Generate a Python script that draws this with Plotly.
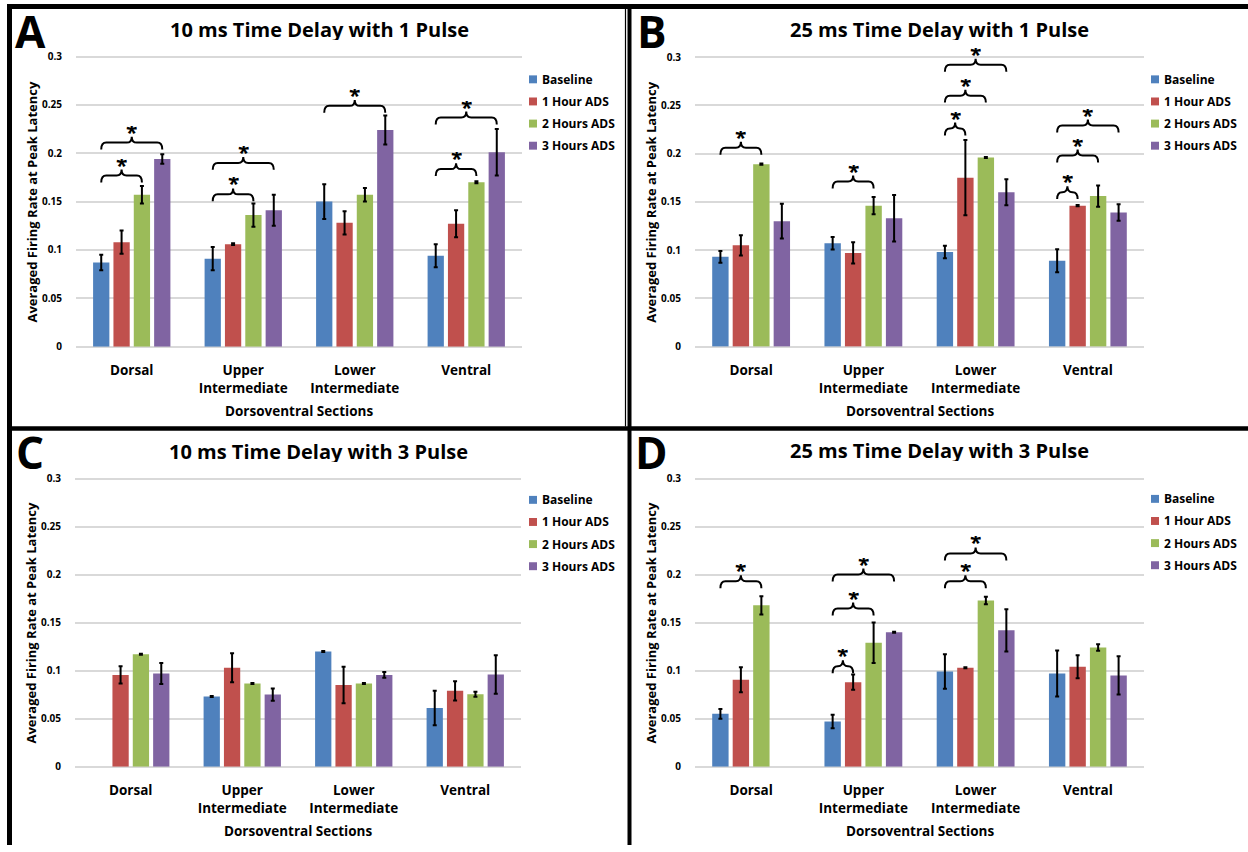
import plotly.graph_objects as go

W, H = 1248, 852
FONT = "Open Sans"

# ---------------- data ----------------
categories = ["Dorsal", "Upper<br>Intermediate", "Lower<br>Intermediate", "Ventral"]
series_names = ["Baseline", "1 Hour ADS", "2 Hours ADS", "3 Hours ADS"]
series_colors = ["#4F81BD", "#C0504D", "#9BBB59", "#8064A2"]
y_tickvals = [0, 0.05, 0.1, 0.15, 0.2, 0.25, 0.3]
y_ticktext = ["0", "0.05", "0.1", "0.15", "0.2", "0.25", "0.3"]

# Panel A: 10 ms, 1 pulse
a_baseline = [0.087, 0.091, 0.150, 0.094]
a_1h = [0.108, 0.106, 0.128, 0.127]
a_2h = [0.157, 0.136, 0.157, 0.170]
a_3h = [0.194, 0.141, 0.224, 0.201]
a_baseline_err = [0.008, 0.012, 0.018, 0.012]
a_1h_err = [0.012, 0.001, 0.012, 0.014]
a_2h_err = [0.009, 0.012, 0.007, 0.001]
a_3h_err = [0.005, 0.016, 0.015, 0.024]
# (category, from series, to series, bracket level)
a_brackets = [(0, 0, 2, 0.177), (0, 0, 3, 0.211), (1, 0, 2, 0.1575), (1, 0, 3, 0.190),
              (2, 0, 3, 0.249), (3, 0, 2, 0.1836), (3, 0, 3, 0.237)]

# Panel B: 25 ms, 1 pulse
b_baseline = [0.093, 0.107, 0.098, 0.089]
b_1h = [0.105, 0.097, 0.175, 0.146]
b_2h = [0.189, 0.146, 0.196, 0.156]
b_3h = [0.130, 0.133, 0.160, 0.139]
b_baseline_err = [0.006, 0.0065, 0.0065, 0.012]
b_1h_err = [0.0105, 0.011, 0.039, 0.0006]
b_2h_err = [0.0007, 0.009, 0.0005, 0.011]
b_3h_err = [0.018, 0.024, 0.0135, 0.0085]
b_brackets = [(0, 0, 2, 0.206), (1, 0, 2, 0.171), (2, 0, 1, 0.226), (2, 0, 2, 0.260),
              (2, 0, 3, 0.292), (3, 0, 1, 0.160), (3, 0, 2, 0.198), (3, 0, 3, 0.229)]

# Panel C: 10 ms, 3 pulse
c_baseline = [None, 0.073, 0.120, 0.061]
c_1h = [0.0955, 0.103, 0.085, 0.079]
c_2h = [0.117, 0.0866, 0.0866, 0.0755]
c_3h = [0.097, 0.075, 0.0955, 0.096]
c_baseline_err = [0, 0.0005, 0.0005, 0.018]
c_1h_err = [0.009, 0.015, 0.019, 0.010]
c_2h_err = [0.0005, 0.0005, 0.0005, 0.0026]
c_3h_err = [0.011, 0.0064, 0.003, 0.020]
c_brackets = []

# Panel D: 25 ms, 3 pulse
d_baseline = [0.055, 0.047, 0.099, 0.097]
d_1h = [0.0905, 0.088, 0.103, 0.104]
d_2h = [0.168, 0.129, 0.173, 0.124]
d_3h = [None, 0.140, 0.142, 0.095]
d_baseline_err = [0.005, 0.007, 0.018, 0.024]
d_1h_err = [0.013, 0.008, 0.0005, 0.012]
d_2h_err = [0.0095, 0.021, 0.004, 0.0034]
d_3h_err = [0, 0.0005, 0.022, 0.020]
d_brackets = [(0, 0, 2, 0.193), (1, 0, 1, 0.1046), (1, 0, 2, 0.1646), (1, 0, 3, 0.200),
              (2, 0, 2, 0.193), (2, 0, 3, 0.222)]

# ---------------- layout geometry (pixels) ----------------
BARGAP, BARGROUPGAP = 0.27, 0.2
Y_MAX = 0.31
X_RANGE = [-0.5, 3.5]

panels = [
    dict(letter="A", title="10 ms Time Delay with 1 Pulse",
         vals=[a_baseline, a_1h, a_2h, a_3h], errs=[a_baseline_err, a_1h_err, a_2h_err, a_3h_err],
         brackets=a_brackets, px=(76, 522), zero=349.5, top=57.0,
         letter_xy=(31, 31), title_xy=(319, 29), legend_x=529, legend_y=80),
    dict(letter="B", title="25 ms Time Delay with 1 Pulse",
         vals=[b_baseline, b_1h, b_2h, b_3h], errs=[b_baseline_err, b_1h_err, b_2h_err, b_3h_err],
         brackets=b_brackets, px=(695, 1144), zero=349.5, top=57.5,
         letter_xy=(652, 31), title_xy=(939, 29), legend_x=1151, legend_y=80),
    dict(letter="C", title="10 ms Time Delay with 3 Pulse",
         vals=[c_baseline, c_1h, c_2h, c_3h], errs=[c_baseline_err, c_1h_err, c_2h_err, c_3h_err],
         brackets=c_brackets, px=(75, 521), zero=773.0, top=482.5,
         letter_xy=(30, 456), title_xy=(318, 455), legend_x=529, legend_y=504),
    dict(letter="D", title="25 ms Time Delay with 3 Pulse",
         vals=[d_baseline, d_1h, d_2h, d_3h], errs=[d_baseline_err, d_1h_err, d_2h_err, d_3h_err],
         brackets=d_brackets, px=(695, 1144), zero=773.0, top=482.5,
         letter_xy=(651, 456), title_xy=(939, 454), legend_x=1151, legend_y=503),
]


def fx(p):
    return p / W


def fy(p):
    return 1 - p / H


fig = go.Figure()
shapes = []
annotations = []
layout_axes = {}

group_w = 1 - BARGAP
step = group_w / 4

for i, P in enumerate(panels):
    n = "" if i == 0 else str(i + 1)
    xa, ya = "x" + n, "y" + n
    ppu = (P["zero"] - P["top"]) / 0.3
    top_px = P["zero"] - Y_MAX * ppu
    x0p, x1p = P["px"]
    xppu = (x1p - x0p) / (X_RANGE[1] - X_RANGE[0])

    for s in range(4):
        fig.add_trace(go.Bar(
            x=list(range(len(categories))), y=P["vals"][s], name=series_names[s],
            marker=dict(color=series_colors[s], line=dict(width=0)),
            error_y=dict(type="data", array=P["errs"][s], color="black", thickness=2, width=2),
            xaxis=xa, yaxis=ya, showlegend=False,
        ))

    layout_axes["xaxis" + n] = dict(
        domain=[fx(x0p), fx(x1p)], anchor=ya, range=X_RANGE,
        tickvals=list(range(len(categories))), ticktext=categories,
        showgrid=False, zeroline=False, showline=False, ticks="",
        tickfont=dict(family=FONT, size=13.5, color="black", weight="bold"),
        ticklabelstandoff=14, fixedrange=True,
    )
    layout_axes["yaxis" + n] = dict(
        domain=[fy(P["zero"]), fy(top_px)], anchor=xa, range=[0, Y_MAX],
        tickvals=y_tickvals, ticktext=y_ticktext,
        showgrid=True, gridcolor="#d9d9d9", gridwidth=2,
        zeroline=True, zerolinecolor="#d9d9d9", zerolinewidth=2,
        showline=False, ticks="",
        tickfont=dict(family=FONT, size=10, color="black", weight="bold"),
        ticklabelstandoff=13, fixedrange=True,
    )

    # significance braces
    for (cat, sa, sb, lvl) in P["brackets"]:
        xa0 = cat + (sa - 1.5) * step
        xb0 = cat + (sb - 1.5) * step
        xm = (xa0 + xb0) / 2
        h, r, t = 7 / ppu, 5 / xppu, 6 / ppu
        path = (f"M {xa0},{lvl - h} Q {xa0},{lvl} {xa0 + r},{lvl} "
                f"L {xm - r},{lvl} Q {xm},{lvl} {xm},{lvl + t} "
                f"Q {xm},{lvl} {xm + r},{lvl} L {xb0 - r},{lvl} "
                f"Q {xb0},{lvl} {xb0},{lvl - h}")
        shapes.append(dict(type="path", path=path, xref=xa, yref=ya,
                           line=dict(color="black", width=2)))
        annotations.append(dict(x=xm, y=lvl + t, xref=xa, yref=ya, text="*",
                                showarrow=False, yanchor="middle", yshift=5, height=12,
                                font=dict(family=FONT, size=21, color="black", weight="bold")))

    # titles, letters, axis titles
    lx, ly = P["letter_xy"]
    annotations.append(dict(x=fx(lx), y=fy(ly), xref="paper", yref="paper", text=P["letter"],
                            showarrow=False, xanchor="center", yanchor="middle",
                            font=dict(family=FONT, size=44, color="black", weight="bold")))
    tx, ty = P["title_xy"]
    annotations.append(dict(x=fx(tx), y=fy(ty), xref="paper", yref="paper", text=P["title"],
                            showarrow=False, xanchor="center", yanchor="middle", height=22,
                            font=dict(family=FONT, size=20, color="black", weight="bold")))
    annotations.append(dict(x=fx(x0p - 44), y=fy((P["zero"] + P["top"]) / 2), xref="paper", yref="paper",
                            text="Averaged Firing Rate at Peak Latency", textangle=-90,
                            showarrow=False, xanchor="center", yanchor="middle",
                            font=dict(family=FONT, size=13, color="black", weight="bold")))
    annotations.append(dict(x=fx((x0p + x1p) / 2), y=fy(P["zero"] + 65), xref="paper", yref="paper",
                            text="Dorsoventral Sections",
                            showarrow=False, xanchor="center", yanchor="middle",
                            font=dict(family=FONT, size=13.5, color="black", weight="bold")))

    # legend
    for s in range(4):
        cy = P["legend_y"] + s * 22.3
        shapes.append(dict(type="rect", xref="paper", yref="paper",
                           x0=fx(P["legend_x"]), x1=fx(P["legend_x"] + 8),
                           y0=fy(cy + 4), y1=fy(cy - 4),
                           fillcolor=series_colors[s], line=dict(width=0)))
        annotations.append(dict(x=fx(P["legend_x"] + 11), y=fy(cy), xref="paper", yref="paper",
                                text=series_names[s], showarrow=False, xanchor="left", yanchor="middle",
                                font=dict(family=FONT, size=12, color="black", weight="bold")))

# panel frame lines
frame = [
    (7, 6.5, W, 6.5, 5),       # top
    (9.5, 4, 9.5, H, 5),       # left
    (7, 432, W, 432, 4.5),     # middle horizontal
    (629.5, 4, 629.5, H, 4),   # middle vertical
    (625.5, 9, 625.5, 430, 1.2),
]
for (xa_, ya_, xb_, yb_, wd) in frame:
    shapes.append(dict(type="line", xref="paper", yref="paper",
                       x0=fx(xa_), y0=fy(ya_), x1=fx(xb_), y1=fy(yb_),
                       line=dict(color="black", width=wd)))

fig.update_layout(
    width=W, height=H, margin=dict(l=0, r=0, t=0, b=0),
    paper_bgcolor="white", plot_bgcolor="white",
    barmode="group", bargap=BARGAP, bargroupgap=BARGROUPGAP,
    showlegend=False, shapes=shapes, annotations=annotations,
    font=dict(family=FONT, color="black"),
    **layout_axes,
)

fig.write_html("out.html")
